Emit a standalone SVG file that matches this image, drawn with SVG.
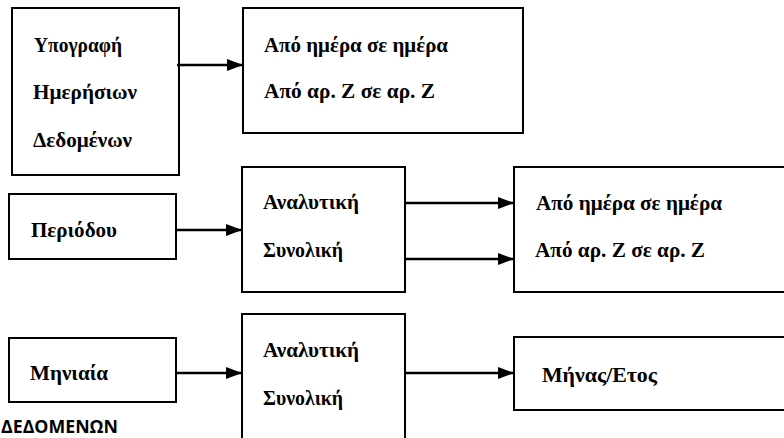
<svg xmlns="http://www.w3.org/2000/svg" width="784" height="438" viewBox="0 0 784 438">
<defs>
<marker id="ah" markerWidth="16" markerHeight="12" refX="16" refY="6" orient="auto" markerUnits="userSpaceOnUse">
<path d="M0,0 L16,6 L0,12 Z" fill="#000"/>
</marker>
<style>
.b{fill:#fff;stroke:#000;stroke-width:2}
.t{font-family:"Liberation Serif","Times New Roman","DejaVu Serif",serif;font-weight:bold;font-size:20px;fill:#000}
.c{stroke:#000;stroke-width:2.5;fill:none;marker-end:url(#ah)}
.s{font-family:"Open Sans","Liberation Sans",sans-serif;font-weight:bold;font-size:18px;fill:#000}
</style>
</defs>
<rect width="784" height="438" fill="#fff"/>
<g id="n1"><rect class="b" x="12" y="8" width="167" height="167"/>
<text class="t" x="34" y="52" textLength="88" lengthAdjust="spacingAndGlyphs">Υπογραφή</text>
<text class="t" x="33" y="99" textLength="104" lengthAdjust="spacingAndGlyphs">Ημερήσιων</text>
<text class="t" x="33" y="147" textLength="99" lengthAdjust="spacingAndGlyphs">Δεδομένων</text></g>
<g id="n2"><rect class="b" x="243" y="8" width="280" height="125"/>
<text class="t" x="264" y="52" textLength="184" lengthAdjust="spacingAndGlyphs">Από ημέρα σε ημέρα</text>
<text class="t" x="264" y="98" textLength="171" lengthAdjust="spacingAndGlyphs">Από αρ. Ζ σε αρ. Ζ</text></g>
<g id="n3"><rect class="b" x="9" y="194" width="167" height="65"/>
<text class="t" x="31" y="237" textLength="86" lengthAdjust="spacingAndGlyphs">Περιόδου</text></g>
<g id="n4"><rect class="b" x="242" y="167" width="163" height="125"/>
<text class="t" x="263" y="209" textLength="96" lengthAdjust="spacingAndGlyphs">Αναλυτική</text>
<text class="t" x="263" y="257" textLength="80" lengthAdjust="spacingAndGlyphs">Συνολική</text></g>
<g id="n5"><rect class="b" x="514" y="167" width="280" height="125"/>
<text class="t" x="536" y="210" textLength="186" lengthAdjust="spacingAndGlyphs">Από ημέρα σε ημέρα</text>
<text class="t" x="535" y="257" textLength="170" lengthAdjust="spacingAndGlyphs">Από αρ. Ζ σε αρ. Ζ</text></g>
<g id="n6"><rect class="b" x="9" y="338" width="167" height="64"/>
<text class="t" x="30" y="380" textLength="78" lengthAdjust="spacingAndGlyphs">Μηνιαία</text></g>
<g id="n7"><rect class="b" x="242" y="314" width="163" height="140"/>
<text class="t" x="263" y="357" textLength="96" lengthAdjust="spacingAndGlyphs">Αναλυτική</text>
<text class="t" x="263" y="405" textLength="80" lengthAdjust="spacingAndGlyphs">Συνολική</text></g>
<g id="n8"><rect class="b" x="514" y="337" width="280" height="73"/>
<text class="t" x="542" y="382" textLength="115" lengthAdjust="spacingAndGlyphs">Μήνας/Ετος</text></g>
<text class="s" x="1" y="433" textLength="117" lengthAdjust="spacingAndGlyphs">ΔΕΔΟΜΕΝΩΝ</text>
<g id="connectors">
<line class="c" x1="177" y1="65" x2="243" y2="65"/>
<line class="c" x1="176" y1="230" x2="242" y2="230"/>
<line class="c" x1="405" y1="203" x2="514" y2="203"/>
<line class="c" x1="405" y1="259" x2="514" y2="259"/>
<line class="c" x1="176" y1="373" x2="242" y2="373"/>
<line class="c" x1="405" y1="373" x2="514" y2="373"/>
</g>
</svg>
